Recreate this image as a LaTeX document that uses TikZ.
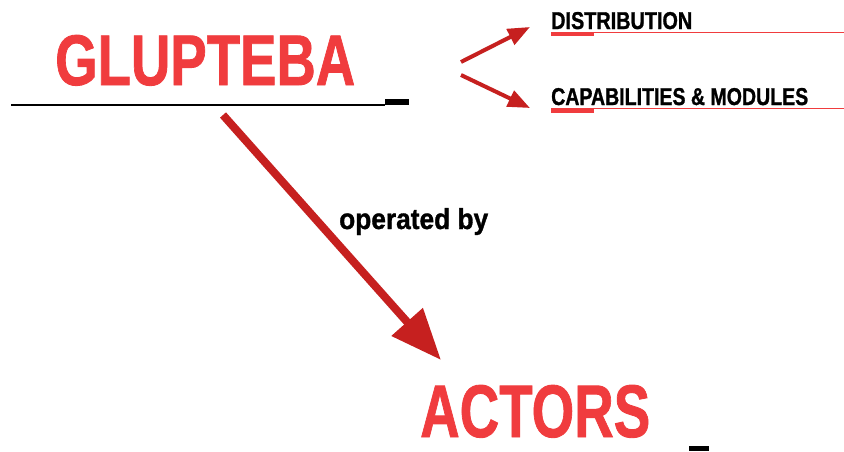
\documentclass[tikz,border=0pt]{standalone}
\usepackage{fontspec}
\usepackage{graphicx}
\setmainfont{Liberation Sans}
\newfontfamily\heavyfont[FakeBold=1.2]{Liberation Sans}
\usetikzlibrary{arrows.meta}
\definecolor{titlered}{RGB}{240,60,62}
\definecolor{arrowred}{RGB}{198,32,31}
\tikzset{
  label text/.style={inner sep=0pt, anchor=base west, font=\heavyfont\bfseries},
  title/.style={label text, text=titlered},
  topic/.style={label text, text=black},
  pointer/.style={draw=arrowred, line width=4pt, -{Triangle[length=22pt,width=17pt]}},
  main pointer/.style={draw=arrowred, line width=8pt, -{Triangle[length=51pt,width=40pt]}},
  rule/.style={draw=black, line width=2pt},
  thin rule/.style={draw=titlered, line width=1pt},
}
\begin{document}
\begin{tikzpicture}[x=1pt, y=-1pt]
\useasboundingbox (0,0) rectangle (844,451);

% headings (text squeezed to a condensed look)
\node[title] (glupteba) at (55,85) {\resizebox{300pt}{50pt}{GLUPTEBA}};
\node[title] (actors) at (420,437) {\resizebox{230pt}{52pt}{ACTORS}};
\node[topic] (distribution) at (551,29) {\resizebox{141pt}{17pt}{DISTRIBUTION}};
\node[topic] (capabilities) at (551,105) {\resizebox{257pt}{17pt}{CAPABILITIES \& MODULES}};
\node[topic] (operated) at (339,229) {\resizebox{149pt}{21pt}{operated by}};

% rule under the main heading, with its cursor block
\draw[rule] (11,104.5) -- (385,104.5);
\fill[black] (385,99) rectangle (409,105);
% cursor block after the lower heading
\fill[black] (689,446) rectangle (709,451);

% thin red rules under the two topics, each with a short thick lead
\draw[thin rule] (551,32.5) -- (844,32.5);
\fill[titlered] (551,32) rectangle (594,36);
\draw[thin rule] (551,108.5) -- (844,108.5);
\fill[titlered] (551,108) rectangle (594,113);

% connectors
\coordinate (fork top) at (461,62);
\coordinate (fork bottom) at (461,75);
\coordinate (dist tip) at (530,27);
\coordinate (cap tip) at (530,108);
\coordinate (main start) at (223,115);
\coordinate (main tip) at (441,360);
\draw[pointer] (fork top) -- (dist tip);
\draw[pointer] (fork bottom) -- (cap tip);
\draw[main pointer] (main start) -- (main tip);
\end{tikzpicture}
\end{document}
